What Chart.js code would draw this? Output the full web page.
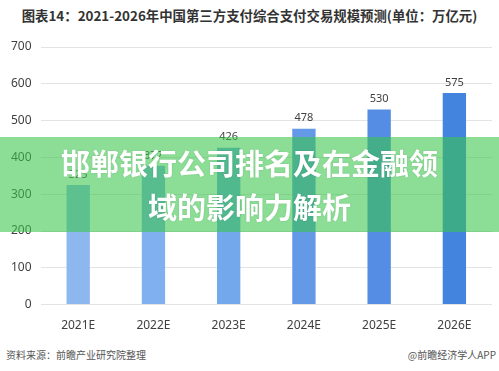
<!DOCTYPE html>
<html lang="zh-CN">
<head>
    <meta charset="UTF-8">
    <title>第三方支付综合支付交易规模预测</title>
    <style>
        body {
            margin: 0;
            background: #fff;
            font-family: "Noto Sans CJK SC", "Noto Sans", sans-serif;
        }
        .wrap {
            position: relative;
            width: 499px;
            height: 371px;
            overflow: hidden;
        }
        .titulo {
            position: absolute;
            top: 5px;
            left: 0;
            width: 499px;
            text-align: center;
            font-size: 13.4px;
            font-weight: bold;
            color: #333;
        }
        .grafico {
            position: absolute;
            top: 0;
            left: 0;
            width: 499px;
            height: 339px;
        }
        .faixa {
            position: absolute;
            left: 0;
            top: 137px;
            width: 499px;
            height: 95px;
            background: rgba(57, 198, 74, 0.58);
            color: #fff;
            font-weight: bold;
            font-size: 29px;
            line-height: 44px;
            text-align: center;
            padding-top: 3px;
            box-sizing: border-box;
            text-shadow: 0 0 2px rgba(0,0,0,0.15);
        }
        .fonte {
            position: absolute;
            top: 347px;
            left: 6px;
            font-size: 10px;
            color: #555;
        }
        .marca {
            position: absolute;
            top: 347px;
            right: 3px;
            font-size: 10px;
            color: #555;
        }
    </style>
</head>
<body>
    <div class="wrap">
        <div class="titulo">图表14：2021-2026年中国第三方支付综合支付交易规模预测(单位：万亿元)</div>
        <div class="grafico"><canvas id="chart"></canvas></div>
        <div class="faixa">邯郸银行公司排名及在金融领<br>域的影响力解析</div>
        <div class="fonte">资料来源：前瞻产业研究院整理</div>
        <div class="marca">@前瞻经济学人APP</div>
    </div>

    <script src="https://cdn.jsdelivr.net/npm/chart.js"></script>
    <script>
        // dados
        const anos = ['2021E', '2022E', '2023E', '2024E', '2025E', '2026E'];
        const valores = [325, 377, 426, 478, 530, 575];
        const coresBarras = ['#8db8ef', '#80b0ef', '#74a8ec', '#6399e6', '#548de3', '#4384df'];
        const ticksY = [0, 100, 200, 300, 400, 500, 600, 700];

        // escreve o valor acima de cada barra
        const rotulos = {
            id: 'rotulos',
            afterDatasetsDraw(chart) {
                const ctx = chart.ctx;
                const meta = chart.getDatasetMeta(0);
                ctx.save();
                ctx.font = '11px "Noto Sans", sans-serif';
                ctx.fillStyle = '#404040';
                ctx.textAlign = 'center';
                ctx.textBaseline = 'bottom';
                meta.data.forEach((bar, i) => {
                    ctx.fillText(valores[i], bar.x, bar.y - 5);
                });
                ctx.restore();
            }
        };

        new Chart(document.getElementById('chart'), {
            type: 'bar',
            data: {
                labels: anos,
                datasets: [{
                    data: valores,
                    backgroundColor: coresBarras,
                    barPercentage: 0.62,
                    categoryPercentage: 0.5
                }]
            },
            options: {
                responsive: true,
                maintainAspectRatio: false,
                animation: false,
                layout: { padding: { top: 47, left: 2, right: 7, bottom: 0 } },
                plugins: {
                    legend: { display: false },
                    tooltip: { enabled: false }
                },
                scales: {
                    x: {
                        grid: { display: false },
                        border: { display: false },
                        ticks: {
                            color: '#404040',
                            font: { size: 12, family: '"Noto Sans", sans-serif' },
                            padding: 6
                        }
                    },
                    y: {
                        min: 0,
                        max: 700,
                        afterBuildTicks(axis) {
                            axis.ticks = ticksY.map(v => ({ value: v }));
                        },
                        grid: { color: '#e3e3e3', drawTicks: false },
                        border: { display: false },
                        ticks: {
                            color: '#404040',
                            font: { size: 12, family: '"Noto Sans", sans-serif' },
                            padding: 9
                        }
                    }
                }
            },
            plugins: [rotulos]
        });
    </script>
</body>
</html>
